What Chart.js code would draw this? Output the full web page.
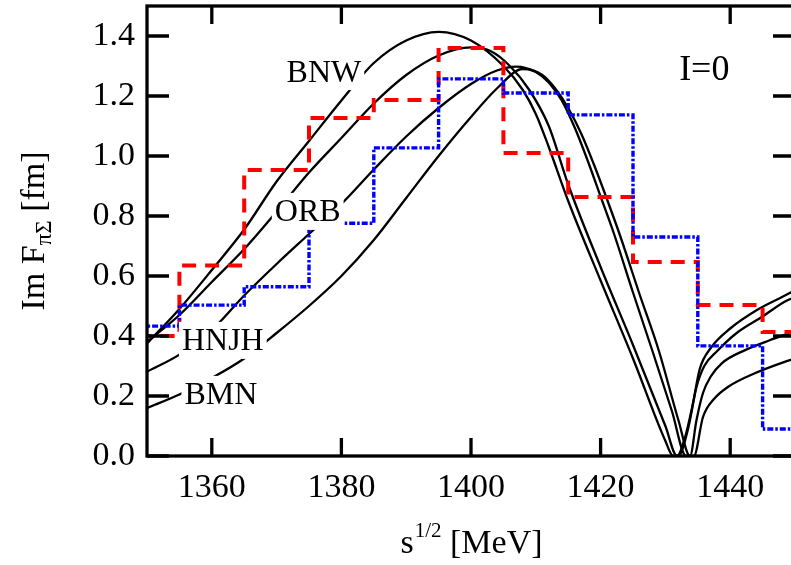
<!DOCTYPE html>
<html><head><meta charset="utf-8">
<script src="https://cdn.jsdelivr.net/npm/chart.js@4.4.1/dist/chart.umd.min.js"></script>
<style>html,body{margin:0;padding:0;overflow:hidden;background:#fff}canvas{display:block}</style>
</head><body>
<canvas id="c" width="800" height="565"></canvas>
<script>
// ---- axis ticks ----
const xTickValues = [1360, 1380, 1400, 1420, 1440];
const yTickValues = [0, 0.2, 0.4, 0.6, 0.8, 1.0, 1.2, 1.4];

// ---- binned results (10 MeV bins, by bin centre) ----
const binCenters = [1350, 1360, 1370, 1380, 1390, 1400, 1410, 1420, 1430, 1440, 1450];
const redBins  = [0.40, 0.635, 0.953, 1.127, 1.187, 1.36, 1.01, 0.863, 0.647, 0.503, 0.413];
const blueBins = [0.433, 0.503, 0.564, 0.776, 1.027, 1.257, 1.21, 1.137, 0.73, 0.367, 0.09];

// ---- model curves ----
const bnwX = [1350,1355,1360,1365,1370,1375,1380,1385,1390,1395,1400,1405,1408,1410,1412,1415,1420,1425,1430,1431.2,1431.8,1433,1434.2,1435.3,1437,1440,1444,1448,1450];
const bnwY = [0.375,0.49,0.62,0.755,0.915,1.05,1.185,1.31,1.385,1.414,1.385,1.30,1.22,1.14,1.03,0.85,0.585,0.325,0.05,0,0,0.06,0.17,0.29,0.36,0.425,0.485,0.53,0.552];

const orbX = [1350,1355,1360,1365,1370,1375,1380,1385,1390,1395,1400,1403,1406,1409,1412,1415,1420,1425,1430,1431.8,1432.4,1433.6,1434.8,1436,1438,1441,1445,1448.4,1450];
const orbY = [0.38,0.47,0.58,0.69,0.815,0.945,1.06,1.175,1.27,1.335,1.362,1.35,1.30,1.22,1.10,0.905,0.63,0.37,0.10,0,0.01,0.1,0.23,0.30,0.35,0.41,0.465,0.514,0.53];

const hnjhX = [1350,1355,1360,1365,1370,1375,1380,1385,1390,1395,1400,1404,1407,1410,1412,1414,1416,1418,1420,1422,1425,1428,1431,1433.2,1433.8,1434.8,1435.8,1437,1438.7,1442.3,1446,1450];
const hnjhY = [0.281,0.338,0.42,0.535,0.64,0.74,0.84,0.955,1.065,1.16,1.24,1.285,1.298,1.28,1.245,1.185,1.095,0.985,0.865,0.745,0.545,0.35,0.15,0,0,0.12,0.21,0.265,0.309,0.353,0.385,0.415];

const bmnX = [1350,1355,1360,1365,1370,1375,1380,1385,1390,1395,1400,1404,1408,1411,1413,1415,1417,1419,1421,1423,1426,1429,1432,1433.8,1434.4,1435.8,1437.5,1439.7,1443.8,1448.4,1450];
const bmnY = [0.16,0.205,0.26,0.325,0.41,0.50,0.60,0.72,0.86,1.0,1.13,1.225,1.29,1.27,1.225,1.16,1.075,0.97,0.855,0.735,0.54,0.35,0.12,0,0,0.13,0.19,0.231,0.276,0.314,0.325];

// ---- text annotations (data coordinates) ----
const curveNames = ['BNW', 'ORB', 'HNJH', 'BMN'];
const curveNameAt = [[1377.3, 1.283], [1374.8, 0.817], [1361.7, 0.387], [1361.4, 0.207]];
const isospinText = 'I=0';
const isospinAt = [1436.0, 1.295];

const FONT = "'Liberation Serif','Times New Roman',serif";

function pts(xs, ys) { return xs.map((x, i) => ({x: x, y: ys[i]})); }
function stepPts(centers, vals) {
  const out = [];
  for (let i = 0; i < centers.length; i++) {
    const left = i === 0 ? centers[0] - (centers[1] - centers[0]) / 2 : (centers[i - 1] + centers[i]) / 2;
    out.push({x: left, y: vals[i]});
  }
  const n = centers.length;
  out.push({x: centers[n - 1] + (centers[n - 1] - centers[n - 2]) / 2, y: vals[n - 1]});
  return out;
}

const curveStyle = {borderColor: '#000', borderWidth: 2.3, pointRadius: 0, cubicInterpolationMode: 'monotone', fill: false, order: 3};

const annotPlugin = {
  id: 'annot',
  afterDatasetsDraw(chart) {
    const {ctx, scales: {x, y}} = chart;
    ctx.save();
    ctx.font = '32px ' + FONT;
    ctx.textAlign = 'center';
    ctx.textBaseline = 'alphabetic';
    curveNames.forEach((t, i) => {
      const px = x.getPixelForValue(curveNameAt[i][0]);
      const py = y.getPixelForValue(curveNameAt[i][1]);
      const w = ctx.measureText(t).width;
      ctx.fillStyle = '#fff';
      ctx.fillRect(px - w / 2 - 3, py - 18, w + 6, 37);
      ctx.fillStyle = '#000';
      ctx.fillText(t, px, py + 10.5);
    });
    ctx.font = '36px ' + FONT;
    ctx.fillText(isospinText, x.getPixelForValue(isospinAt[0]), y.getPixelForValue(isospinAt[1]) + 12);
    ctx.restore();
  },
  afterDraw(chart) {
    const {ctx, chartArea: a, scales: {x, y}} = chart;
    ctx.save();
    ctx.strokeStyle = '#000';
    ctx.lineWidth = 3.3;
    ctx.strokeRect(a.left, a.top, a.right - a.left, a.bottom - a.top);
    ctx.beginPath();
    x.ticks.forEach(t => {
      const px = x.getPixelForValue(t.value);
      ctx.moveTo(px, a.bottom); ctx.lineTo(px, a.bottom - 18);
      ctx.moveTo(px, a.top); ctx.lineTo(px, a.top + 18);
    });
    y.ticks.forEach(t => {
      const py = y.getPixelForValue(t.value);
      ctx.moveTo(a.left, py); ctx.lineTo(a.left + 22, py);
      ctx.moveTo(a.right, py); ctx.lineTo(a.right - 22, py);
    });
    ctx.stroke();

    // axis titles
    ctx.fillStyle = '#000';
    ctx.textBaseline = 'alphabetic';
    ctx.textAlign = 'left';
    const big = '34px ' + FONT, small = '21px ' + FONT;
    ctx.font = big; const w1 = ctx.measureText('s').width;
    ctx.font = small; const w2 = ctx.measureText('1/2').width;
    ctx.font = big; const w3 = ctx.measureText(' [MeV]').width;
    const cx = (a.left + a.right) / 2;
    const sx = cx - (w1 + w2 + w3) / 2;
    const by = 553;
    ctx.font = big; ctx.fillText('s', sx, by);
    ctx.font = small; ctx.fillText('1/2', sx + w1 + 1, by - 16);
    ctx.font = big; ctx.fillText(' [MeV]', sx + w1 + w2 + 1, by);
    ctx.save();
    ctx.translate(44, (a.top + a.bottom) / 2);
    ctx.rotate(-Math.PI / 2);
    ctx.font = big; const v1 = ctx.measureText('Im F').width;
    ctx.font = '23px ' + FONT; const v2 = ctx.measureText('πΣ').width;
    ctx.font = big; const v3 = ctx.measureText(' [fm]').width;
    const s = -(v1 + v2 + v3) / 2;
    ctx.font = big; ctx.fillText('Im F', s, 0);
    ctx.font = '23px ' + FONT; ctx.fillText('πΣ', s + v1, 7);
    ctx.font = big; ctx.fillText(' [fm]', s + v1 + v2, 0);
    ctx.restore();
    ctx.restore();
  }
};

new Chart(document.getElementById('c'), {
  type: 'line',
  data: {
    datasets: [
      {label: 'blue', data: stepPts(binCenters, blueBins), stepped: 'before', borderColor: '#0000ff', borderWidth: 3.4, borderDash: [6, 2, 2.5, 2], pointRadius: 0, fill: false, order: 1},
      {label: 'red', data: stepPts(binCenters, redBins), stepped: 'before', borderColor: '#ff0000', borderWidth: 4, borderDash: [14, 9], pointRadius: 0, fill: false, order: 2},
      Object.assign({label: 'BNW', data: pts(bnwX, bnwY)}, curveStyle),
      Object.assign({label: 'ORB', data: pts(orbX, orbY)}, curveStyle),
      Object.assign({label: 'HNJH', data: pts(hnjhX, hnjhY)}, curveStyle),
      Object.assign({label: 'BMN', data: pts(bmnX, bmnY)}, curveStyle)
    ]
  },
  options: {
    responsive: false,
    animation: false,
    devicePixelRatio: 1,
    layout: {padding: {left: 0, right: 5, top: 6, bottom: 0}},
    plugins: {legend: {display: false}, tooltip: {enabled: false}},
    scales: {
      x: {
        type: 'linear', min: 1350, max: 1450,
        grid: {display: false, drawTicks: false},
        border: {display: false},
        ticks: {color: '#000', font: {family: FONT, size: 34}, padding: 12, maxRotation: 0, callback: v => String(v)},
        afterBuildTicks: axis => { axis.ticks = xTickValues.map(v => ({value: v})); },
        afterFit: s => { s.height = 109; s.paddingLeft = 0; s.paddingRight = 0; }
      },
      y: {
        type: 'linear', min: 0, max: 1.5,
        grid: {display: false, drawTicks: false},
        border: {display: false},
        ticks: {color: '#000', font: {family: FONT, size: 34}, padding: 12, callback: v => Number(v).toFixed(1)},
        afterBuildTicks: axis => { axis.ticks = yTickValues.map(v => ({value: v})); },
        afterFit: s => { s.width = 147; s.paddingTop = 0; s.paddingBottom = 0; }
      }
    }
  },
  plugins: [annotPlugin]
});
</script>
</body></html>
